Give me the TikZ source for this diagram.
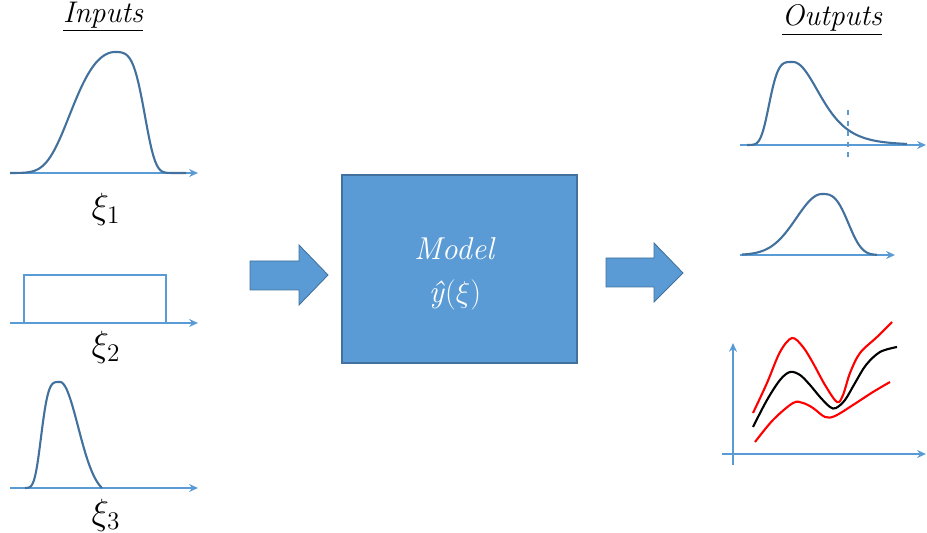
\documentclass[tikz,border=0pt]{standalone}
\usepackage{fontspec}
\usetikzlibrary{arrows.meta}

\definecolor{axisblue}{HTML}{5B9BD5}
\definecolor{curveblue}{HTML}{41719C}

\tikzset{
  axis/.style={axisblue, line width=1.1pt, -{Stealth[length=5pt,width=4.5pt]}},
  pdf/.style={curveblue, line width=1.2pt},
  band/.style={line width=1.2pt, smooth, tension=0.55},
  lbl/.style={font=\fontsize{20}{22}\selectfont},
  title/.style={font=\fontsize{17}{19}\selectfont\itshape},
  blockarrow/.style={fill=axisblue, draw=curveblue, line width=0.5pt},
  modelbox/.style={fill=axisblue, draw=curveblue, line width=0.6pt,
    minimum width=4.7cm, minimum height=3.76cm},
  modeltext/.style={text=white, inner sep=1pt, font=\fontsize{18}{20}\selectfont},
}

\begin{document}
\begin{tikzpicture}[x=0.02cm, y=-0.02cm,
  declare function={sq(\t)=\t*\t; cub(\t)=\t*\t*\t; quar(\t)=\t*\t*\t*\t;}]
\useasboundingbox (0,0) rectangle (927,533);

% headings
\node[title] (tin) at (103,17) {\underline{Inputs}};
\node[title] (tout) at (832,20) {\underline{Outputs}};

% input 1
\draw[axis] (10,173) -- (198,173);
\draw[pdf] plot[domain=10:115, samples=50]
    (\x, {173-121*exp(-(0.289*sq((115-\x)/35)+0.088*quar((115-\x)/35)))})
  -- plot[domain=115:186, samples=40]
    (\x, {173-121*exp(-(0.042*sq((\x-115)/25)+0.335*quar((\x-115)/25)))});
\node[lbl] (xi1) at (106,209) {$\xi_1$};

% input 2
\draw[axis] (10,323) -- (198,323);
\draw[axisblue, line width=1.1pt] (24,323) -- (24,275) -- (166,275) -- (166,323);
\node[lbl] (xi2) at (106,347) {$\xi_2$};

% input 3
\draw[axis] (10,488) -- (198,488);
\draw[pdf] plot[domain=25:60, samples=40] (\x, {488-106*exp(-quar((60-\x)/20.5))})
  -- plot[domain=60:102, samples=40] (\x, {488-106*(exp(-sq((\x-60)/25.6))-0.068)/0.932});
\node[lbl] (xi3) at (106,515) {$\xi_3$};

% block arrows and model
\draw[blockarrow] (250,261) -- (299,261) -- (299,245) -- (328,275) -- (299,305)
  -- (299,290) -- (250,290) -- cycle;
\node[modelbox] (model) at (459.5,269) {};
\node[modeltext] (mname) at (455,249) {\textit{Model}};
\node[modeltext] (mfun) at (455,295) {\textit{ŷ}$(\xi)$};
\draw[blockarrow] (606,258) -- (654,258) -- (654,243) -- (683,273) -- (654,302)
  -- (654,287) -- (606,287) -- cycle;

% output 1
\draw[axis] (740,145) -- (926,145);
\draw[pdf] plot[domain=747:793, samples=40] (\x, {145-83*exp(-quar((793-\x)/26))})
  -- plot[domain=793:907, samples=60] (\x, {145-83/cub(1+sq((\x-793)/63))});
\draw[axisblue, line width=1.1pt, dashed] (848,110) -- (848,162);

% output 2
\draw[axis] (740,255) -- (895,255);
\draw[pdf] plot[domain=742:822, samples=50] (\x, {255-61*exp(-sq((822-\x)/36.2))})
  -- plot[domain=822:877, samples=40] (\x, {255-61*exp(-cub((\x-822)/30.4))});

% output 3
\draw[axis] (733,465) -- (733,343);
\draw[axis] (722,454) -- (926,454);
\draw[band, red] plot coordinates {(753,413) (767,383) (780,352) (792,338) (803,347)
  (813,363) (825,385) (837,402) (843,395) (850,373) (860,353) (877,337) (892,322)};
\draw[band, black] plot coordinates {(753,427) (767,400) (780,380) (790,372) (800,375)
  (810,385) (820,397) (830,407) (836,408) (845,400) (855,383) (866,365) (880,352) (897,347)};
\draw[band, red] plot coordinates {(755,442) (773,420) (793,403) (803,403) (813,408)
  (825,417) (835,416) (853,405) (873,392) (890,382)};
\end{tikzpicture}
\end{document}
